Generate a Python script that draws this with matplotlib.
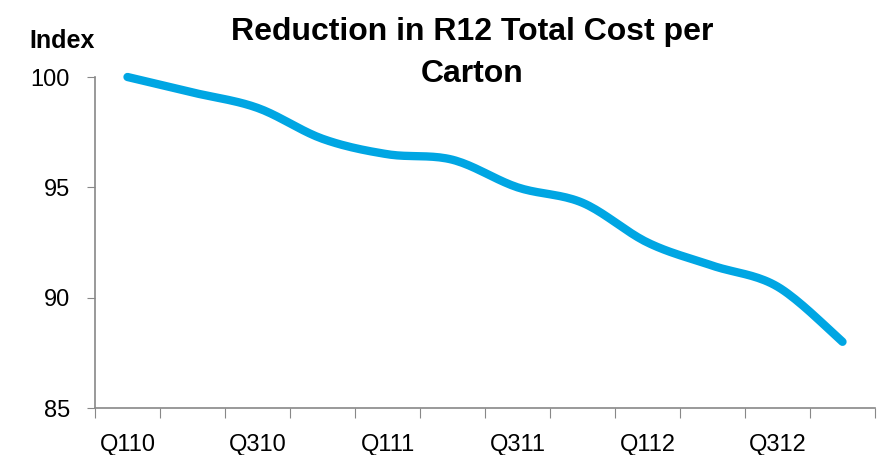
import matplotlib
matplotlib.use("Agg")
import matplotlib.pyplot as plt
import numpy as np

plt.rcParams["font.family"] = ["Liberation Sans", "DejaVu Sans"]

quarters = ["Q110", "Q210", "Q310", "Q410", "Q111", "Q211",
            "Q311", "Q411", "Q112", "Q212", "Q312", "Q412"]
index_values = [100.0, 99.3, 98.6, 97.2, 96.5, 96.25,
                95.0, 94.3, 92.5, 91.45, 90.5, 88.0]


def smooth(x, y, n=20):
    # Catmull-Rom style smoothing, like a spreadsheet "smoothed line"
    x = np.asarray(x, float)
    y = np.asarray(y, float)
    px = np.concatenate([[x[0]], x, [x[-1]]])
    py = np.concatenate([[y[0]], y, [y[-1]]])
    xs, ys = [], []
    t = np.linspace(0, 1, n, endpoint=False)
    for i in range(1, len(px) - 2):
        p0, p1, p2, p3 = [np.array([px[j], py[j]]) for j in (i - 1, i, i + 1, i + 2)]
        c1 = p1 + (p2 - p0) / 6
        c2 = p2 - (p3 - p1) / 6
        pts = ((1 - t)[:, None] ** 3 * p1 + 3 * ((1 - t) ** 2 * t)[:, None] * c1
               + 3 * ((1 - t) * t ** 2)[:, None] * c2 + (t ** 3)[:, None] * p2)
        xs.extend(pts[:, 0])
        ys.extend(pts[:, 1])
    xs.append(x[-1])
    ys.append(y[-1])
    return np.array(xs), np.array(ys)


fig = plt.figure(figsize=(8.77, 4.55), dpi=100)
ax = fig.add_axes([95 / 877, 1 - 408 / 455, 780 / 877, 331 / 455])

xpos = np.arange(len(quarters))
sx, sy = smooth(xpos, index_values)
ax.plot(sx, sy, color="#00A6E3", linewidth=6, solid_capstyle="round",
        solid_joinstyle="round", clip_on=False)

ax.set_xlim(-0.5, len(quarters) - 0.5)
ax.set_ylim(85, 100)
ax.set_yticks([85, 90, 95, 100])
ax.tick_params(axis="y", labelsize=17, length=6, color="#888888", pad=12)

# tick marks between categories, labels on every other category
ax.set_xticks(np.arange(-0.5, len(quarters), 1))
ax.set_xticklabels([])
ax.set_xticks(xpos[::2], minor=True)
ax.set_xticklabels(quarters[::2], minor=True)
ax.tick_params(axis="x", which="major", length=7, color="#888888")
ax.tick_params(axis="x", which="minor", length=0, labelsize=17, pad=19)

for s in ["top", "right"]:
    ax.spines[s].set_visible(False)
for s in ["left", "bottom"]:
    ax.spines[s].set_color("#888888")
    ax.spines[s].set_linewidth(1.2)

fig.text(472 / 877, 1 - 40 / 455, "Reduction in R12 Total Cost per",
         ha="center", va="baseline", fontsize=23, fontweight="bold")
fig.text(472 / 877, 1 - 82 / 455, "Carton",
         ha="center", va="baseline", fontsize=23, fontweight="bold")
fig.text(62 / 877, 1 - 48 / 455, "Index", ha="center", va="baseline",
         fontsize=18, fontweight="bold")

fig.savefig("out.png", dpi=100)
